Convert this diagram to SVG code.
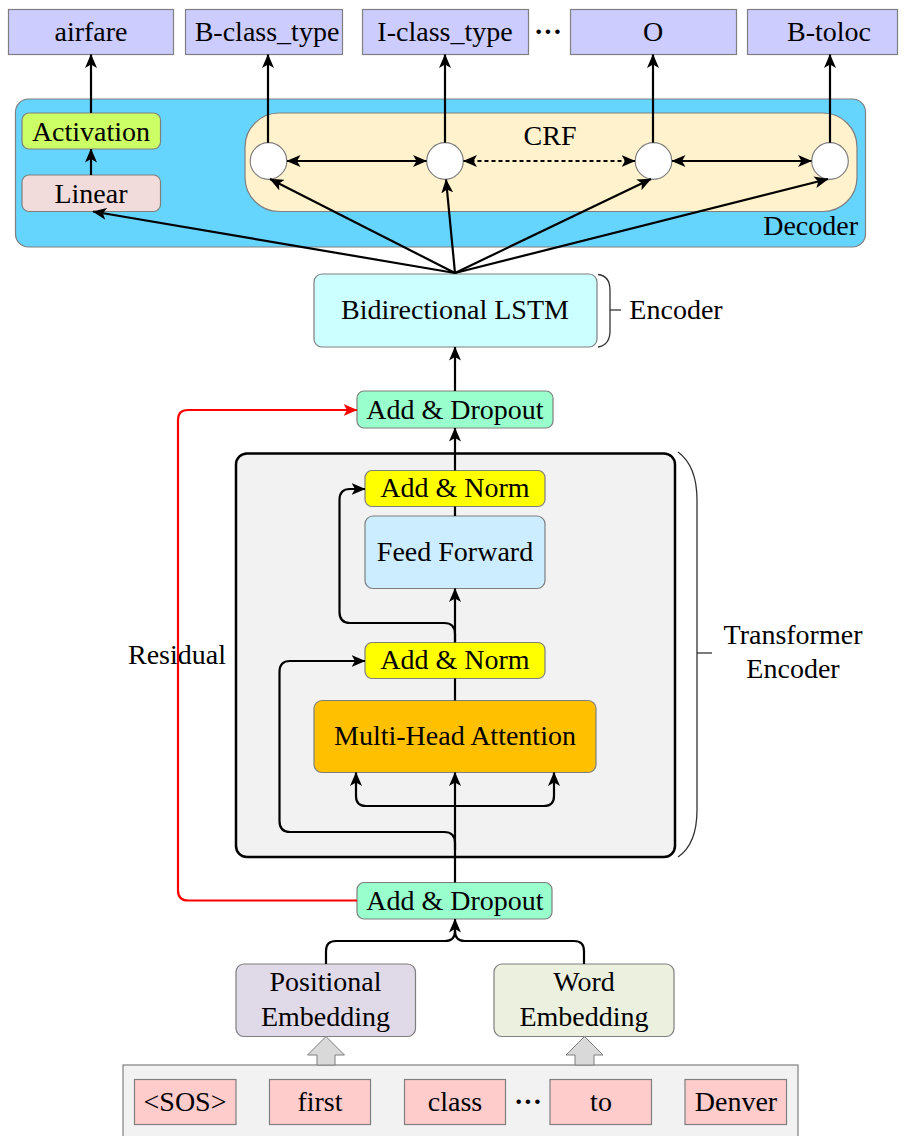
<svg xmlns="http://www.w3.org/2000/svg" width="905" height="1136" viewBox="0 0 905 1136">
<defs>
<marker id="ah" markerUnits="userSpaceOnUse" markerWidth="14" markerHeight="12" viewBox="0 0 14 12" refX="13.5" refY="6" orient="auto-start-reverse">
<path d="M0,0 L14,6 L0,12 L3.5,6 z" fill="#000"/>
</marker>
<marker id="ahr" markerUnits="userSpaceOnUse" markerWidth="14" markerHeight="12" viewBox="0 0 14 12" refX="13.5" refY="6" orient="auto">
<path d="M0,0 L14,6 L0,12 L3.5,6 z" fill="#FF0000"/>
</marker>
</defs>
<style>
text{font-family:"Liberation Serif","Times New Roman",serif;font-size:28px;fill:#000;text-anchor:middle}
.box{stroke:#7F7F7F;stroke-width:1.2}
.ln{fill:none;stroke:#000;stroke-width:2.2}
.arr{fill:none;stroke:#000;stroke-width:2.2;marker-end:url(#ah)}
.dbl{fill:none;stroke:#000;stroke-width:2.2;marker-start:url(#ah);marker-end:url(#ah)}
.brace{fill:none;stroke:#333;stroke-width:1.3}
.dots{font-weight:bold}
</style>

<!-- containers -->
<g id="decoder">
<rect x="15.5" y="99" width="850" height="148" rx="13" fill="#66D5FD" class="box"/>
<text x="858" y="235" style="text-anchor:end">Decoder</text>
</g>
<g id="crf">
<rect x="245" y="113" width="612" height="98.5" rx="34" fill="#FFF2CC" class="box"/>
<text x="550" y="145">CRF</text>
</g>
<g id="transformer">
<rect x="236" y="453.5" width="439" height="403.5" rx="11" fill="#F2F2F2" stroke="#000" stroke-width="2.5"/>
</g>
<g id="tokens-panel">
<rect x="123" y="1065" width="675" height="80" fill="#F2F2F2" class="box"/>
</g>

<!-- output labels -->
<g id="out-airfare"><rect x="8.5" y="9.5" width="165" height="45" fill="#CCCCFF" class="box"/><text x="91" y="41">airfare</text></g>
<g id="out-bclass"><rect x="185.5" y="9.5" width="157" height="45" fill="#CCCCFF" class="box"/><text x="267" y="41">B-class_type</text></g>
<g id="out-iclass"><rect x="362.5" y="9.5" width="166" height="45" fill="#CCCCFF" class="box"/><text x="445" y="41">I-class_type</text></g>
<g id="out-dots"><text x="548" y="41" class="dots">···</text></g>
<g id="out-o"><rect x="570.5" y="9.5" width="166" height="45" fill="#CCCCFF" class="box"/><text x="653" y="41">O</text></g>
<g id="out-btoloc"><rect x="747.5" y="9.5" width="150" height="45" fill="#CCCCFF" class="box"/><text x="829" y="41">B-toloc</text></g>

<!-- decoder internals -->
<g id="activation"><rect x="22" y="113" width="138.5" height="36" rx="7" fill="#CCFF66" class="box"/><text x="91" y="140.5">Activation</text></g>
<g id="linear"><rect x="22" y="175" width="138.5" height="36.5" rx="7" fill="#F2DCDB" class="box"/><text x="91" y="202.5">Linear</text></g>
<g id="crf-n1"><circle cx="268.5" cy="161" r="18.3" fill="#FFF" stroke="#7F7F7F" stroke-width="1.2"/></g>
<g id="crf-n2"><circle cx="445" cy="161" r="18.3" fill="#FFF" stroke="#7F7F7F" stroke-width="1.2"/></g>
<g id="crf-n3"><circle cx="653.5" cy="161" r="18.3" fill="#FFF" stroke="#7F7F7F" stroke-width="1.2"/></g>
<g id="crf-n4"><circle cx="830" cy="161" r="18.3" fill="#FFF" stroke="#7F7F7F" stroke-width="1.2"/></g>

<!-- encoder -->
<g id="lstm"><rect x="314" y="274" width="283" height="73" rx="8" fill="#CCFFFF" class="box"/><text x="455" y="319">Bidirectional LSTM</text></g>
<g id="encoder-label">
<path class="brace" d="M598,274.5 Q610,276 610,290 L610,331 Q610,345 598,347"/>
<path class="brace" d="M610,310 L621,310"/>
<text x="676" y="319">Encoder</text>
</g>
<g id="dropout-top"><rect x="357" y="391" width="196" height="37" rx="7" fill="#99FFCC" class="box"/><text x="455" y="419">Add &amp; Dropout</text></g>

<!-- transformer internals -->
<g id="addnorm-top"><rect x="365" y="470.5" width="180" height="36" rx="7" fill="#FFFF00" class="box"/><text x="455" y="497">Add &amp; Norm</text></g>
<g id="feedforward"><rect x="365" y="516" width="180" height="72.5" rx="8" fill="#CCECFF" class="box"/><text x="455" y="561">Feed Forward</text></g>
<g id="addnorm-low"><rect x="365" y="642.5" width="180" height="36" rx="7" fill="#FFFF00" class="box"/><text x="455" y="669">Add &amp; Norm</text></g>
<g id="mha"><rect x="314" y="700.5" width="282" height="72" rx="8" fill="#FFC000" class="box"/><text x="455" y="745">Multi-Head Attention</text></g>
<g id="transformer-label">
<path class="brace" d="M678,452 Q697,466 697,500 L697,810 Q697,844 678,857"/>
<path class="brace" d="M697,653 L712,653"/>
<text x="793" y="644">Transformer</text>
<text x="793" y="678">Encoder</text>
</g>

<!-- input side -->
<g id="dropout-bottom"><rect x="357" y="882.5" width="195" height="36.5" rx="7" fill="#99FFCC" class="box"/><text x="455" y="910">Add &amp; Dropout</text></g>
<g id="positional"><rect x="236" y="964" width="179.5" height="72.5" rx="8" fill="#DFD9E8" class="box"/><text x="325.5" y="991">Positional</text><text x="325.5" y="1026">Embedding</text></g>
<g id="word"><rect x="494" y="964" width="180" height="72.5" rx="8" fill="#EBF1DE" class="box"/><text x="584" y="991">Word</text><text x="584" y="1026">Embedding</text></g>
<g id="tok-sos"><rect x="134.5" y="1079.5" width="101.5" height="45" fill="#FFCCCC" class="box"/><text x="185" y="1111">&lt;SOS&gt;</text></g>
<g id="tok-first"><rect x="269.5" y="1079.5" width="101" height="45" fill="#FFCCCC" class="box"/><text x="320" y="1111">first</text></g>
<g id="tok-class"><rect x="404.5" y="1079.5" width="101" height="45" fill="#FFCCCC" class="box"/><text x="455" y="1111">class</text></g>
<g id="tok-dots"><text x="528" y="1111" class="dots">···</text></g>
<g id="tok-to"><rect x="550" y="1079.5" width="101.5" height="45" fill="#FFCCCC" class="box"/><text x="601" y="1111">to</text></g>
<g id="tok-denver"><rect x="685" y="1079.5" width="101.5" height="45" fill="#FFCCCC" class="box"/><text x="736" y="1111">Denver</text></g>

<!-- residual label -->
<g id="residual-label">
<rect x="124" y="638" width="106" height="34" fill="#FFFFFF"/>
</g>

<g id="connectors">
<!-- outputs -->
<path class="arr" d="M91,113 L91,54.5"/>
<path class="arr" d="M268,142.7 L268,54.5"/>
<path class="arr" d="M445,142.7 L445,54.5"/>
<path class="arr" d="M653,142.7 L653,54.5"/>
<path class="arr" d="M830,142.7 L830,54.5"/>
<path class="arr" d="M91,175 L91,149"/>
<!-- CRF chain -->
<path class="dbl" d="M287,161 L426.5,161"/>
<path class="dbl" d="M463.5,161 L635,161" stroke-dasharray="4,3"/>
<path class="dbl" d="M672,161 L811.5,161"/>
<!-- fan from LSTM -->
<path class="arr" d="M455,273 L93,211.5"/>
<path class="arr" d="M455,273 L270,179"/>
<path class="arr" d="M455,273 L446,179.5"/>
<path class="arr" d="M455,273 L651,179"/>
<path class="arr" d="M455,273 L828,179"/>
<!-- encoder stack -->
<path class="arr" d="M455,391 L455,347"/>
<path class="arr" d="M455,470.5 L455,428"/>
<path class="ln" d="M455,516 L455,506.5"/>
<path class="arr" d="M455,642.5 L455,588.5"/>
<path class="ln" d="M455,700.5 L455,678.5"/>
<path class="arr" d="M455,882.5 L455,772.5"/>
<!-- residual skips in transformer -->
<path class="arr" d="M455,642 L455,634 Q455,623 444,623 L350,623 Q339.5,623 339.5,612 L339.5,500 Q339.5,489 350,489 L365,489"/>
<path class="arr" d="M455,850 L455,843 Q455,832 444,832 L290,832 Q279.5,832 279.5,821 L279.5,672 Q279.5,661 290,661 L365,661"/>
<path class="arr" d="M455,806 L366,806 Q356,806 356,796 L356,772.5"/>
<path class="arr" d="M455,806 L544,806 Q554,806 554,796 L554,772.5"/>
<!-- red residual -->
<path d="M357,900.5 L188,900.5 Q178,900.5 178,890.5 L178,420 Q178,410 188,410 L357,410" fill="none" stroke="#FF0000" stroke-width="2.2" marker-end="url(#ahr)"/>
<!-- embeddings merge -->
<path class="ln" d="M326,964 L326,951 Q326,941 336,941 L445,941 Q455,941 455,931"/>
<path class="ln" d="M584,964 L584,951 Q584,941 574,941 L465,941 Q455,941 455,931"/>
<path class="arr" d="M455,932 L455,919"/>
<!-- block arrows -->
<path d="M317,1065 L317,1055 L307.5,1055 L326,1036.5 L344.5,1055 L335,1055 L335,1065 z" fill="#D9D9D9" stroke="#7F7F7F" stroke-width="1"/>
<path d="M575,1065 L575,1055 L566,1055 L584.5,1036.5 L603,1055 L594,1055 L594,1065 z" fill="#D9D9D9" stroke="#7F7F7F" stroke-width="1"/>
</g>

<g id="residual-text"><text x="177" y="664">Residual</text></g>
</svg>
